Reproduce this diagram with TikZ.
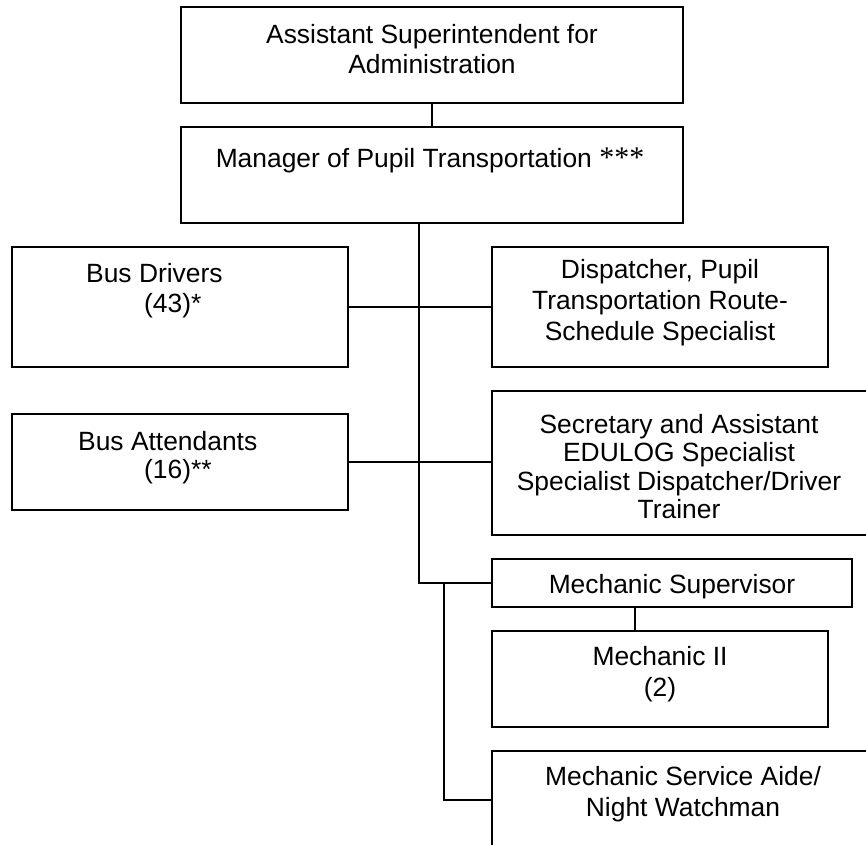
\documentclass[tikz,border=0pt]{standalone}
\usepackage{fontspec}
\setmainfont{Liberation Sans}
\newfontfamily\starfont{Liberation Serif}
\usetikzlibrary{calc}
\begin{document}
\begin{tikzpicture}[x=1pt, y=-1pt,
  line width=2.4pt,
  orgbox/.style={draw, line width=2.4pt, rectangle, inner sep=0pt},
  label/.style={inner sep=0pt, anchor=base, align=center},
  txt/.style={font=\fontsize{26.4}{#1}\selectfont},
  txt/.default=30]
  \useasboundingbox (0,0) rectangle (866,844);
  \clip (0,0) rectangle (866,844);

  % boxes of the chart
  \node[orgbox, minimum width=502pt, minimum height=96pt]  (asst)  at (432,55)  {};
  \node[orgbox, minimum width=502pt, minimum height=96pt]  (mgr)   at (432,175) {};
  \node[orgbox, minimum width=336pt, minimum height=120pt] (drv)   at (180,307) {};
  \node[orgbox, minimum width=336pt, minimum height=120pt] (disp)  at (660,307) {};
  \node[orgbox, minimum width=336pt, minimum height=96pt]  (att)   at (180,462) {};
  \node[orgbox, minimum width=378pt, minimum height=144pt] (sec)   at (681,463) {};
  \node[orgbox, minimum width=360pt, minimum height=48pt]  (msup)  at (672,583) {};
  \node[orgbox, minimum width=336pt, minimum height=96pt]  (mech)  at (660,679) {};
  \node[orgbox, minimum width=386pt, minimum height=98pt]  (aide)  at (685,800) {};

  % box texts (anchored at the baseline of their last line)
  \node[label, txt] (asstT) at (432,73) {Assistant Superintendent for\\Administration};
  \node[label, txt] (mgrT) at (430,167) {Manager of Pupil Transportation {\starfont\fontsize{30}{30}\selectfont ***}};
  \node[label, txt, anchor=base west, align=left] (drvT) at (85,312) {Bus Drivers\\\hspace*{58pt}(43)*};
  \node[label, txt=28, anchor=base west, align=left] (attT) at (77,478) {Bus Attendants\\\hspace*{66pt}(16)**};
  \node[label, txt=31] (dispT) at (660,340) {Dispatcher, Pupil\\Transportation Route-\\Schedule Specialist};
  \node[label, txt=28.5] (secT) at (679,518.5) {Secretary and Assistant\\EDULOG Specialist\\Specialist Dispatcher/Driver\\Trainer};
  \node[label, txt] (msupT) at (672,593) {Mechanic Supervisor};
  \node[label, txt=31] (mechT) at (660,696.5) {Mechanic II\\(2)};
  \node[label, txt=31.5] (aideT) at (683,816.5) {Mechanic Service Aide/\\Night Watchman};

  % reporting lines
  \coordinate (trunk) at (419,583);
  \coordinate (branch) at (444,583);
  \draw (asst.south) -- (mgr.north);
  \draw (trunk |- mgr.south) -- (trunk) -- (msup.west);
  \draw (drv.east) -- (disp.west);
  \draw (att.east) -- (att.east -| sec.west);
  \draw (branch) -- (branch |- aide.west) -- (aide.west);
  \coordinate (mlink) at ($(msup.south west)+(144,0)$);
  \draw (mlink) -- (mlink |- mech.north);
\end{tikzpicture}
\end{document}
